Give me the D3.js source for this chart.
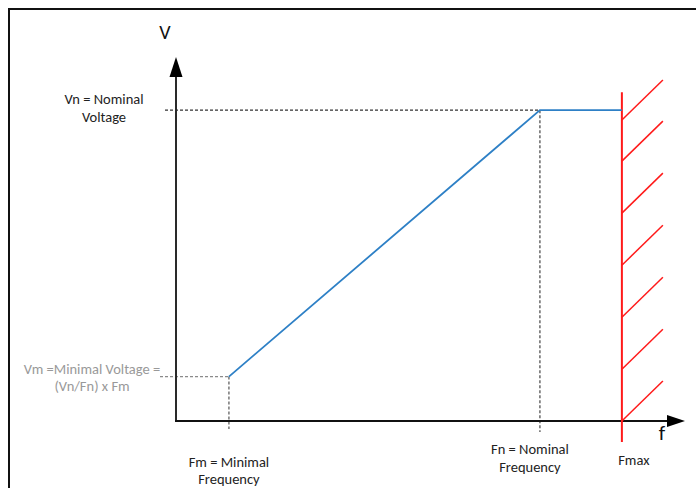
<!DOCTYPE html>
<html>
<head>
<meta charset="utf-8">
<script src="https://cdn.jsdelivr.net/npm/d3@7"></script>
<style>
html,body{margin:0;padding:0;background:#fff;}
svg{display:block;}
text{font-family:Calibri, Carlito, Lato, "Open Sans", sans-serif;}
</style>
</head>
<body>
<svg id="chart" width="696" height="488"></svg>
<script>
// ---- data (arbitrary units 0-100) ----
const freqKeys   = ["Fm", "Fn", "Fmax"];
const freqValues = [10.4, 71.5, 87.6];
const voltKeys   = ["Vm", "Vn"];
const voltValues = [12.2, 85.4];
// V/f curve: start at (Fm,Vm), rise to (Fn,Vn), flat to Fmax
const curveF = [10.4, 71.5, 87.6];
const curveV = [12.2, 85.4, 85.4];
// hatch start points on the Fmax wall (voltage units)
const hatchV = [0, 14.2, 28.5, 42.8, 57.1, 71.4, 82.7];
const labels = {
  vAxis: "V", fAxis: "f",
  vn: ["Vn = Nominal", "Voltage"],
  vm: ["Vm =Minimal Voltage =", "(Vn/Fn) x Fm"],
  fm: ["Fm = Minimal", "Frequency"],
  fn: ["Fn = Nominal", "Frequency"],
  fmax: ["Fmax"]
};

const F = Object.fromEntries(freqKeys.map((k,i)=>[k,freqValues[i]]));
const V = Object.fromEntries(voltKeys.map((k,i)=>[k,voltValues[i]]));

const svg = d3.select("#chart");
const x = d3.scaleLinear().domain([0,100]).range([176,685]);
const y = d3.scaleLinear().domain([0,100]).range([421,57]);

// outer frame
svg.append("rect").attr("x",9).attr("y",9).attr("width",720).attr("height",520)
  .attr("fill","none").attr("stroke","#111").attr("stroke-width",2);

// dashed guides
const g = svg.append("g");
g.append("line").attr("x1",165).attr("x2",x(F.Fn)).attr("y1",y(V.Vn)).attr("y2",y(V.Vn))
  .attr("stroke","#333").attr("stroke-width",1.1).attr("stroke-dasharray","3,2");
g.append("line").attr("x1",x(F.Fn)).attr("x2",x(F.Fn)).attr("y1",y(V.Vn)).attr("y2",y(0)+11)
  .attr("stroke","#333").attr("stroke-width",1.1).attr("stroke-dasharray","3,2");
g.append("line").attr("x1",160).attr("x2",x(F.Fm)).attr("y1",y(V.Vm)).attr("y2",y(V.Vm))
  .attr("stroke","#8a8a8a").attr("stroke-width",1.1).attr("stroke-dasharray","3,2");
g.append("line").attr("x1",x(F.Fm)).attr("x2",x(F.Fm)).attr("y1",y(V.Vm)).attr("y2",y(0)+8)
  .attr("stroke","#444").attr("stroke-width",1.1).attr("stroke-dasharray","3,2");

// axes
const axisColor = "#2a2a2a";
svg.append("line").attr("x1",x(0)).attr("x2",x(0)).attr("y1",y(0)).attr("y2",y(100)+18)
  .attr("stroke",axisColor).attr("stroke-width",2);
svg.append("line").attr("x1",x(0)-1).attr("x2",x(100)-16).attr("y1",y(0)).attr("y2",y(0))
  .attr("stroke","#111").attr("stroke-width",2);
// arrow heads
svg.append("path").attr("d",`M${x(0)},${y(100)} L${x(0)-6.5},${y(100)+20} L${x(0)+6.5},${y(100)+20} Z`).attr("fill","#000");
svg.append("path").attr("d",`M${x(100)},${y(0)} L${x(100)-18},${y(0)-6} L${x(100)-18},${y(0)+6} Z`).attr("fill","#000");

// Fmax wall
svg.append("line").attr("x1",x(F.Fmax)).attr("x2",x(F.Fmax)).attr("y1",y(90.3)).attr("y2",y(0)+21)
  .attr("stroke","#ff1a1a").attr("stroke-width",2);
svg.selectAll(".hatch").data(hatchV).join("line").attr("class","hatch")
  .attr("x1",x(F.Fmax)).attr("y1",d=>y(d))
  .attr("x2",x(F.Fmax)+41).attr("y2",d=>y(d)-40)
  .attr("stroke","#ff1a1a").attr("stroke-width",1.5);

// V/f curve
const pts = curveF.map((f,i)=>[f,curveV[i]]);
svg.append("path").datum(pts)
  .attr("d", d3.line().x(d=>x(d[0])).y(d=>y(d[1])))
  .attr("fill","none").attr("stroke","#2e80c6").attr("stroke-width",1.8);

// texts
function multi(lines, cx, baseline, lh, color, size, anchor){
  const t = svg.append("text").attr("text-anchor",anchor||"middle").attr("fill",color).attr("font-size",size);
  lines.forEach((s,i)=>t.append("tspan").attr("x",cx).attr("y",baseline+i*lh).text(s));
  return t;
}
svg.append("text").attr("x",165).attr("y",39).attr("text-anchor","middle").attr("font-size",20).attr("fill","#111").text(labels.vAxis);
svg.append("text").attr("x",662).attr("y",440).attr("text-anchor","middle").attr("font-size",21).attr("fill","#111").text(labels.fAxis);
multi(labels.vn, 104, y(V.Vn)-6, 18, "#222", 14.5);
multi(labels.vm, 92, y(V.Vm)-3, 17, "#999", 14.5);
multi(labels.fm, x(F.Fm), 467, 17, "#222", 14.5);
multi(labels.fn, x(F.Fn)-10, 454, 17.5, "#222", 14.5);
multi(labels.fmax, x(F.Fmax)+12, 465, 16, "#222", 14.5);
</script>
</body>
</html>
